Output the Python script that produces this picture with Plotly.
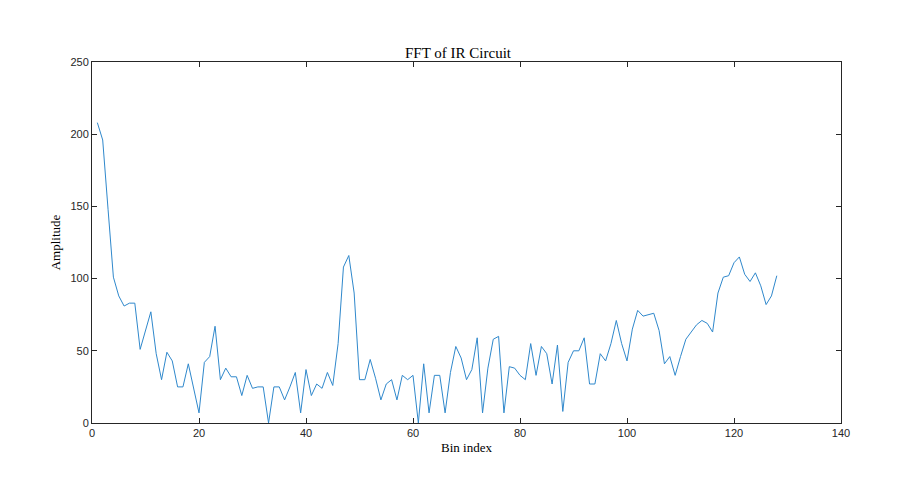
import plotly.graph_objects as go

bins = list(range(1, 129))
amplitude = [208,196,148,101,88,81,83,83,51,65,77,48,30,49,43,25,25,41,25,7,
42,46,67,30,38,32,32,19,33,24,25,25,0,25,25,16,25,35,7,37,
19,27,24,35,26,55,108,116,90,30,30,44,31,16,27,30,16,33,30,33,
0,41,7,33,33,7,35,53,45,30,37,59,7,38,58,60,7,39,38,33,
30,55,33,53,48,27,54,8,42,50,50,59,27,27,48,43,55,71,55,43,
65,78,74,75,76,64,41,46,33,46,58,63,68,71,69,63,90,101,102,111,
115,103,98,104,95,82,88,102]

fig = go.Figure(go.Scatter(x=bins, y=amplitude, mode="lines",
                           line=dict(color="#2f88cc", width=1)))
ax = dict(showgrid=False, zeroline=False, showline=True, mirror="ticks",
          linecolor="#262626", linewidth=1, ticks="inside", ticklen=5,
          tickcolor="#262626", tickfont=dict(family="Liberation Sans", size=11, color="#262626"))
fig.update_layout(
    width=900, height=496, paper_bgcolor="white", plot_bgcolor="white",
    margin=dict(l=84, r=67, t=54, b=81),
    title=dict(text="FFT of IR Circuit", x=0.5, xanchor="center", y=0.92,
               font=dict(family="Liberation Serif", size=15, color="black")),
    xaxis=dict(range=[0, 140], dtick=20, title=dict(text="Bin index", standoff=4,
               font=dict(family="Liberation Serif", size=13, color="black")), **ax),
    yaxis=dict(range=[0, 250], dtick=50, title=dict(text="Amplitude", standoff=6,
               font=dict(family="Liberation Serif", size=13, color="black")), **ax),
    showlegend=False,
)
fig.write_html("out.html")
